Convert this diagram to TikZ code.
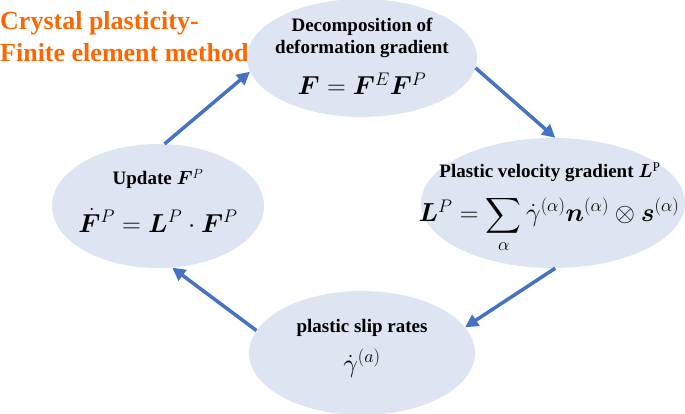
\RequirePackage{fix-cm}
\documentclass[tikz,border=0pt]{standalone}
\usepackage{amsmath}
\usepackage{bm}
\usepackage{fontspec}
\setmainfont{Liberation Serif}
\usetikzlibrary{shapes.geometric,arrows.meta}
\definecolor{stagefill}{HTML}{DDE4F2}
\definecolor{flowblue}{HTML}{4472C4}
\definecolor{bannerorange}{RGB}{255,102,0}

\begin{document}
\begin{tikzpicture}[x=1pt,y=-1pt,
  stage/.style={ellipse, fill=stagefill, inner sep=0pt},
  heading/.style={font=\fontsize{19}{22}\selectfont\bfseries, anchor=base, inner sep=0pt},
  formula/.style={font=\fontsize{26}{30}\selectfont, anchor=base, inner sep=0pt},
  banner/.style={font=\fontsize{26}{32}\selectfont\bfseries, text=bannerorange, anchor=base west, inner sep=0pt},
  flow/.style={-{Triangle[length=13pt,width=13pt]}, line width=3.5pt, flowblue}]
\useasboundingbox (0,0) rectangle (685,414);

% Title
\node[banner] (bannera) at (0,30) {Crystal plasticity-};
\node[banner] (bannerb) at (0,62) {Finite element method};

% Stages
\node[stage, minimum width=230pt, minimum height=118pt] (decomp) at (362,58) {};
\node[stage, minimum width=264pt, minimum height=130pt] (velgrad) at (553,203) {};
\node[stage, minimum width=226pt, minimum height=124pt] (slip) at (362,353) {};
\node[stage, minimum width=212pt, minimum height=124pt] (update) at (158,206) {};

% Cycle
\draw[flow] (update.84) -- (decomp.187);
\draw[flow] (decomp.-5) -- (velgrad.88);
\draw[flow] (velgrad.272) -- (slip.14);
\draw[flow] (slip.168) -- (update.-77);

% Decomposition
\node[heading] (decompa) at (362,32) {Decomposition of};
\node[heading] (decompb) at (362,54) {deformation gradient};
\node[formula] (decompf) at (362,95) {$\bm{F}=\bm{F}^{E}\bm{F}^{P}$};

% Velocity gradient
\node[heading] (velgrada) at (550,178) {Plastic velocity gradient $\bm{L}^{\mathrm{P}}$};
\node[formula] (velgradf) at (549,222) {$\bm{L}^{P}=\displaystyle\sum_{\alpha}\dot{\gamma}^{(\alpha)}\bm{n}^{(\alpha)}\otimes\bm{s}^{(\alpha)}$};

% Slip rates
\node[heading] (slipa) at (362,332) {plastic slip rates};
\node[formula] (slipf) at (362,372) {$\dot{\gamma}^{(a)}$};

% Update
\node[heading] (updatea) at (158,185) {Update $\bm{F}^{P}$};
\node[formula] (updatef) at (158,232) {$\dot{\bm{F}}^{P}=\bm{L}^{P}\cdot\bm{F}^{P}$};
\end{tikzpicture}
\end{document}
